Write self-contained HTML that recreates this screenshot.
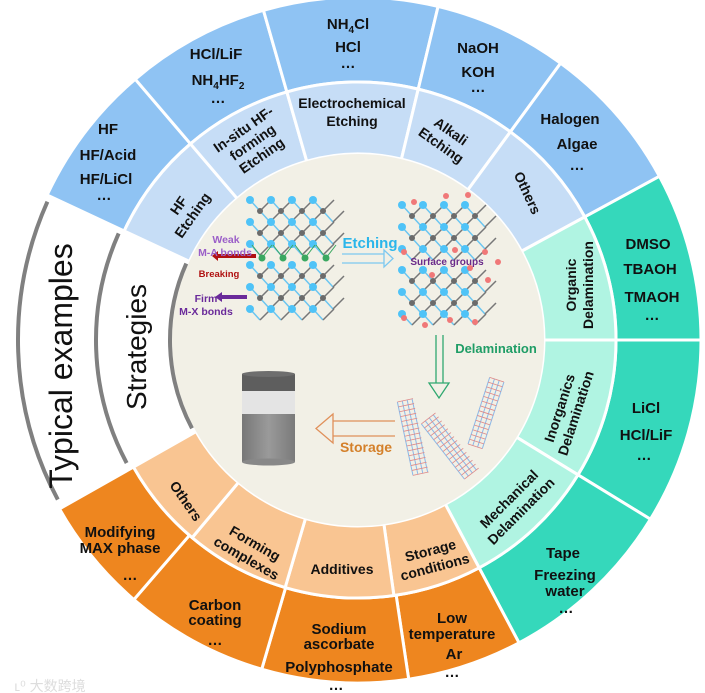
<!DOCTYPE html>
<html><head><meta charset="utf-8"><style>
html,body{margin:0;padding:0;background:#fff;width:705px;height:693px;overflow:hidden}
svg{display:block}
text{font-family:"Liberation Sans",Arial,sans-serif;font-weight:bold;fill:#111}
.b{font-size:15px}
.m{font-size:14px}
</style></head><body>
<svg id="s" width="705" height="693" viewBox="0 0 705 693" xmlns="http://www.w3.org/2000/svg">
<g id="rings"></g>
<circle cx="358" cy="340" r="186" fill="#f2f0e6"/>
<g id="gray" fill="none" stroke="#808080" stroke-width="4"></g>
<g id="art"></g>

<g fill="none" stroke-width="1.3">
<path d="M342 254 H384 M342 263 H384 M384 250 L393 258.5 L384 267 Z" stroke="#7cc8f0"/>
<path d="M436 335 V383 M443 335 V383 M429 383 L449 383 L439 398 Z" stroke="#2fa870"/>
<path d="M395 421 H333 M395 436 H333 M333 414 L316 428.5 L333 443 Z" stroke="#e0905a"/>
<path d="M256 256 H218" stroke="#b01010" stroke-width="4"/>
<path d="M218 251 L212 256 L218 261 Z" fill="#b01010" stroke="none"/>
<path d="M247 297 H222" stroke="#6a2a9a" stroke-width="4"/>
<path d="M222 292 L215 297 L222 302 Z" fill="#6a2a9a" stroke="none"/>
</g>
<defs>
<linearGradient id="jg" x1="0" x2="1"><stop offset="0" stop-color="#777"/><stop offset=".5" stop-color="#9a9a9a"/><stop offset="1" stop-color="#7a7a7a"/></linearGradient>
</defs>
<rect x="242" y="374" width="53" height="17" fill="#5e5e5e"/>
<ellipse cx="268.5" cy="374" rx="26.5" ry="3" fill="#6e6e6e"/>
<rect x="242" y="391" width="53" height="23" fill="#e4e4e4"/>
<rect x="242" y="414" width="53" height="48" fill="url(#jg)"/>
<ellipse cx="268.5" cy="462" rx="26.5" ry="3.5" fill="#888"/>

<text x="370" y="248" style="font-size:15px;fill:#2bb6ea" text-anchor="middle">Etching</text>
<text x="447" y="265" style="font-size:10px;fill:#6a2a8a" text-anchor="middle">Surface groups</text>
<text x="496" y="353" style="font-size:13px;fill:#1f9d66" text-anchor="middle">Delamination</text>
<text x="366" y="452" style="font-size:14px;fill:#d4802a" text-anchor="middle">Storage</text>
<text x="226" y="243" style="font-size:10.5px;fill:#9b5fc8" text-anchor="middle">Weak</text>
<text x="225" y="256" style="font-size:10.5px;fill:#9b5fc8" text-anchor="middle">M-A bonds</text>
<text x="219" y="277" style="font-size:9.5px;fill:#b01010" text-anchor="middle">Breaking</text>
<text x="206" y="302" style="font-size:10.5px;fill:#6a2a9a" text-anchor="middle">Firm</text>
<text x="206" y="315" style="font-size:10.5px;fill:#6a2a9a" text-anchor="middle">M-X bonds</text>

<text transform="translate(72,366) rotate(-90)" text-anchor="middle" style="font-size:32px;font-weight:normal">Typical examples</text>
<text transform="translate(146,347) rotate(-90)" text-anchor="middle" style="font-size:28px;font-weight:normal">Strategies</text>

<g class="b" text-anchor="middle">
<text x="108" y="134">HF</text><text x="108" y="160">HF/Acid</text><text x="106" y="184">HF/LiCl</text><text x="104" y="200">…</text>
<text x="216" y="59">HCl/LiF</text><text x="218" y="85">NH<tspan font-size="10" dy="4">4</tspan><tspan dy="-4">HF</tspan><tspan font-size="10" dy="4">2</tspan></text><text x="218" y="103">…</text>
<text x="348" y="29">NH<tspan font-size="10" dy="4">4</tspan><tspan dy="-4">Cl</tspan></text><text x="348" y="52">HCl</text><text x="348" y="68">…</text>
<text x="478" y="53">NaOH</text><text x="478" y="77">KOH</text><text x="478" y="92">…</text>
<text x="570" y="124">Halogen</text><text x="577" y="149">Algae</text><text x="577" y="170">…</text>
<text x="648" y="249">DMSO</text><text x="650" y="274">TBAOH</text><text x="652" y="302">TMAOH</text><text x="652" y="320">…</text>
<text x="646" y="413">LiCl</text><text x="646" y="440">HCl/LiF</text><text x="644" y="460">…</text>
<text x="563" y="558">Tape</text><text x="565" y="580">Freezing</text><text x="565" y="596">water</text><text x="566" y="613">…</text>
<text x="120" y="537">Modifying</text><text x="120" y="553">MAX phase</text><text x="130" y="580">…</text>
<text x="215" y="610">Carbon</text><text x="215" y="625">coating</text><text x="215" y="645">…</text>
<text x="339" y="634">Sodium</text><text x="339" y="649">ascorbate</text><text x="339" y="672">Polyphosphate</text><text x="336" y="690">…</text>
<text x="452" y="623">Low</text><text x="452" y="639">temperature</text><text x="454" y="659">Ar</text><text x="452" y="677">…</text>
</g>
<g class="m" text-anchor="middle">
<text transform="translate(185,210) rotate(-55)"><tspan x="0" y="-3">HF</tspan><tspan x="0" y="14">Etching</tspan></text>
<text transform="translate(253,143) rotate(-35)"><tspan x="0" y="-12">In-situ HF-</tspan><tspan x="0" y="4">forming</tspan><tspan x="0" y="20">Etching</tspan></text>
<text x="352" y="108">Electrochemical</text><text x="352" y="126">Etching</text>
<text transform="translate(447,137) rotate(35)"><tspan x="0" y="-2">Alkali</tspan><tspan x="0" y="15">Etching</tspan></text>
<text transform="translate(523,195) rotate(65)"><tspan x="0" y="0">Others</tspan></text>
<text transform="translate(581,285) rotate(-90)"><tspan x="0" y="-5">Organic</tspan><tspan x="0" y="12">Delamination</tspan></text>
<text transform="translate(569,411) rotate(-72)"><tspan x="0" y="-5">Inorganics</tspan><tspan x="0" y="12">Delamination</tspan></text>
<text transform="translate(516,506) rotate(-45)"><tspan x="0" y="-5">Mechanical</tspan><tspan x="0" y="12">Delamination</tspan></text>
<text transform="translate(433,560) rotate(-15)"><tspan x="0" y="-5">Storage</tspan><tspan x="0" y="12">conditions</tspan></text>
<text x="342" y="574">Additives</text>
<text transform="translate(250,552) rotate(30)"><tspan x="0" y="-5">Forming</tspan><tspan x="0" y="12">complexes</tspan></text>
<text transform="translate(186,501) rotate(55)"><tspan x="0" y="5">Others</tspan></text>
</g>
<text x="50" y="691" style="font-size:14px;font-weight:normal;fill:#ddd;font-family:'Liberation Sans','Noto Sans CJK SC',sans-serif" text-anchor="middle">ʟ⁰ 大数跨境</text>
</svg>
<script>
var NS="http://www.w3.org/2000/svg",cx=358,cy=340;
function P(r,a){a=a*Math.PI/180;return [cx+r*Math.cos(a),cy+r*Math.sin(a)];}
function sec(r1,r2,a1,a2,fill,g){var p1=P(r2,a1),p2=P(r2,a2),p3=P(r1,a2),p4=P(r1,a1),l=(a2-a1)>180?1:0;
var d="M"+p1+" A"+r2+" "+r2+" 0 "+l+" 1 "+p2+" L"+p3+" A"+r1+" "+r1+" 0 "+l+" 0 "+p4+"Z";
var e=document.createElementNS(NS,"path");e.setAttribute("d",d);e.setAttribute("fill",fill);e.setAttribute("stroke","#fff");e.setAttribute("stroke-width","3");g.appendChild(e);}
var R=document.getElementById("rings");
var outer=[[205,229.5,"#8fc3f3"],[229.5,254,"#8fc3f3"],[254,283.5,"#8fc3f3"],[283.5,306.2,"#8fc3f3"],[306.2,331.5,"#8fc3f3"],
[331.5,360,"#35d8bb"],[360,391.5,"#35d8bb"],[391.5,422,"#35d8bb"],
[422,441.5,"#ee861f"],[441.5,466.3,"#ee861f"],[466.3,490.8,"#ee861f"],[490.8,510.5,"#ee861f"]];
var mid=[[205,229.5,"#c6ddf6"],[229.5,254,"#c6ddf6"],[254,283.5,"#c6ddf6"],[283.5,306.2,"#c6ddf6"],[306.2,331.5,"#c6ddf6"],
[331.5,360,"#b0f4e2"],[360,391.5,"#b0f4e2"],[391.5,422,"#b0f4e2"],
[422,442,"#f9c592"],[442,466.4,"#f9c592"],[466.4,490,"#f9c592"],[490,510.5,"#f9c592"]];
outer.forEach(function(s){sec(258,343,s[0],s[1],s[2],R);});
mid.forEach(function(s){sec(186,258,s[0],s[1],s[2],R);});
var G=document.getElementById("gray");
function arc(r,a1,a2){var p1=P(r,a1),p2=P(r,a2);var e=document.createElementNS(NS,"path");e.setAttribute("d","M"+p1+" A"+r+" "+r+" 0 0 1 "+p2);G.appendChild(e);}
arc(340,152,204);arc(262,152,204);arc(188,152,204);
var A=document.getElementById("art");
function el(t,at){var e=document.createElementNS(NS,t);for(var k in at)e.setAttribute(k,at[k]);A.appendChild(e);return e;}
function block(x0,y0,cols,rows){
 for(var i=0;i<rows;i++)for(var j=0;j<cols;j++){
  var x=x0+j*21+(i%2)*10,y=y0+i*11;
  el("line",{x1:x,y1:y,x2:x+10,y2:y+11,stroke:"#6cc6f0","stroke-width":1.5});
  el("line",{x1:x+10,y1:y+11,x2:x+21,y2:y,stroke:"#777","stroke-width":1.5});
 }
 for(var i=0;i<rows;i++)for(var j=0;j<cols;j++){
  var x=x0+j*21+(i%2)*10,y=y0+i*11;
  el("circle",{cx:x,cy:y,r:(i%2?3:4),fill:(i%2?"#6b6b6b":"#4fc3f7")});
 }
}
block(250,200,4,5);block(250,265,4,5);
[262,283,305,326].forEach(function(x){el("circle",{cx:x,cy:258,r:3.5,fill:"#3aa860"});el("path",{d:"M"+(x-10)+" 245 L"+x+" 258 L"+(x+10)+" 245",stroke:"#3aa860",fill:"none"});});
block(402,205,4,5);block(402,270,4,5);
[[414,202],[446,196],[468,195],[404,252],[455,250],[485,252],[470,268],[432,275],[488,280],[404,318],[450,320],[475,322],[425,325],[498,262]].forEach(function(p){el("circle",{cx:p[0],cy:p[1],r:3,fill:"#f07878"});});
function flake(x,y,w,h,rot){var g=el("g",{transform:"translate("+x+","+y+") rotate("+rot+")"});
 for(var i=0;i<=w;i+=5){var l=document.createElementNS(NS,"line");l.setAttribute("x1",i-w/2);l.setAttribute("x2",i-w/2);l.setAttribute("y1",-h/2);l.setAttribute("y2",h/2);l.setAttribute("stroke","#8ab8e8");l.setAttribute("stroke-width","1");g.appendChild(l);}
 for(var i=0;i<=h;i+=5){var l=document.createElementNS(NS,"line");l.setAttribute("x1",-w/2);l.setAttribute("x2",w/2);l.setAttribute("y1",i-h/2);l.setAttribute("y2",i-h/2);l.setAttribute("stroke","#d88");l.setAttribute("stroke-width","0.8");g.appendChild(l);}}
flake(413,437,16,75,-12);flake(450,446,18,70,-38);flake(486,413,15,70,18);
</script>
</body></html>
